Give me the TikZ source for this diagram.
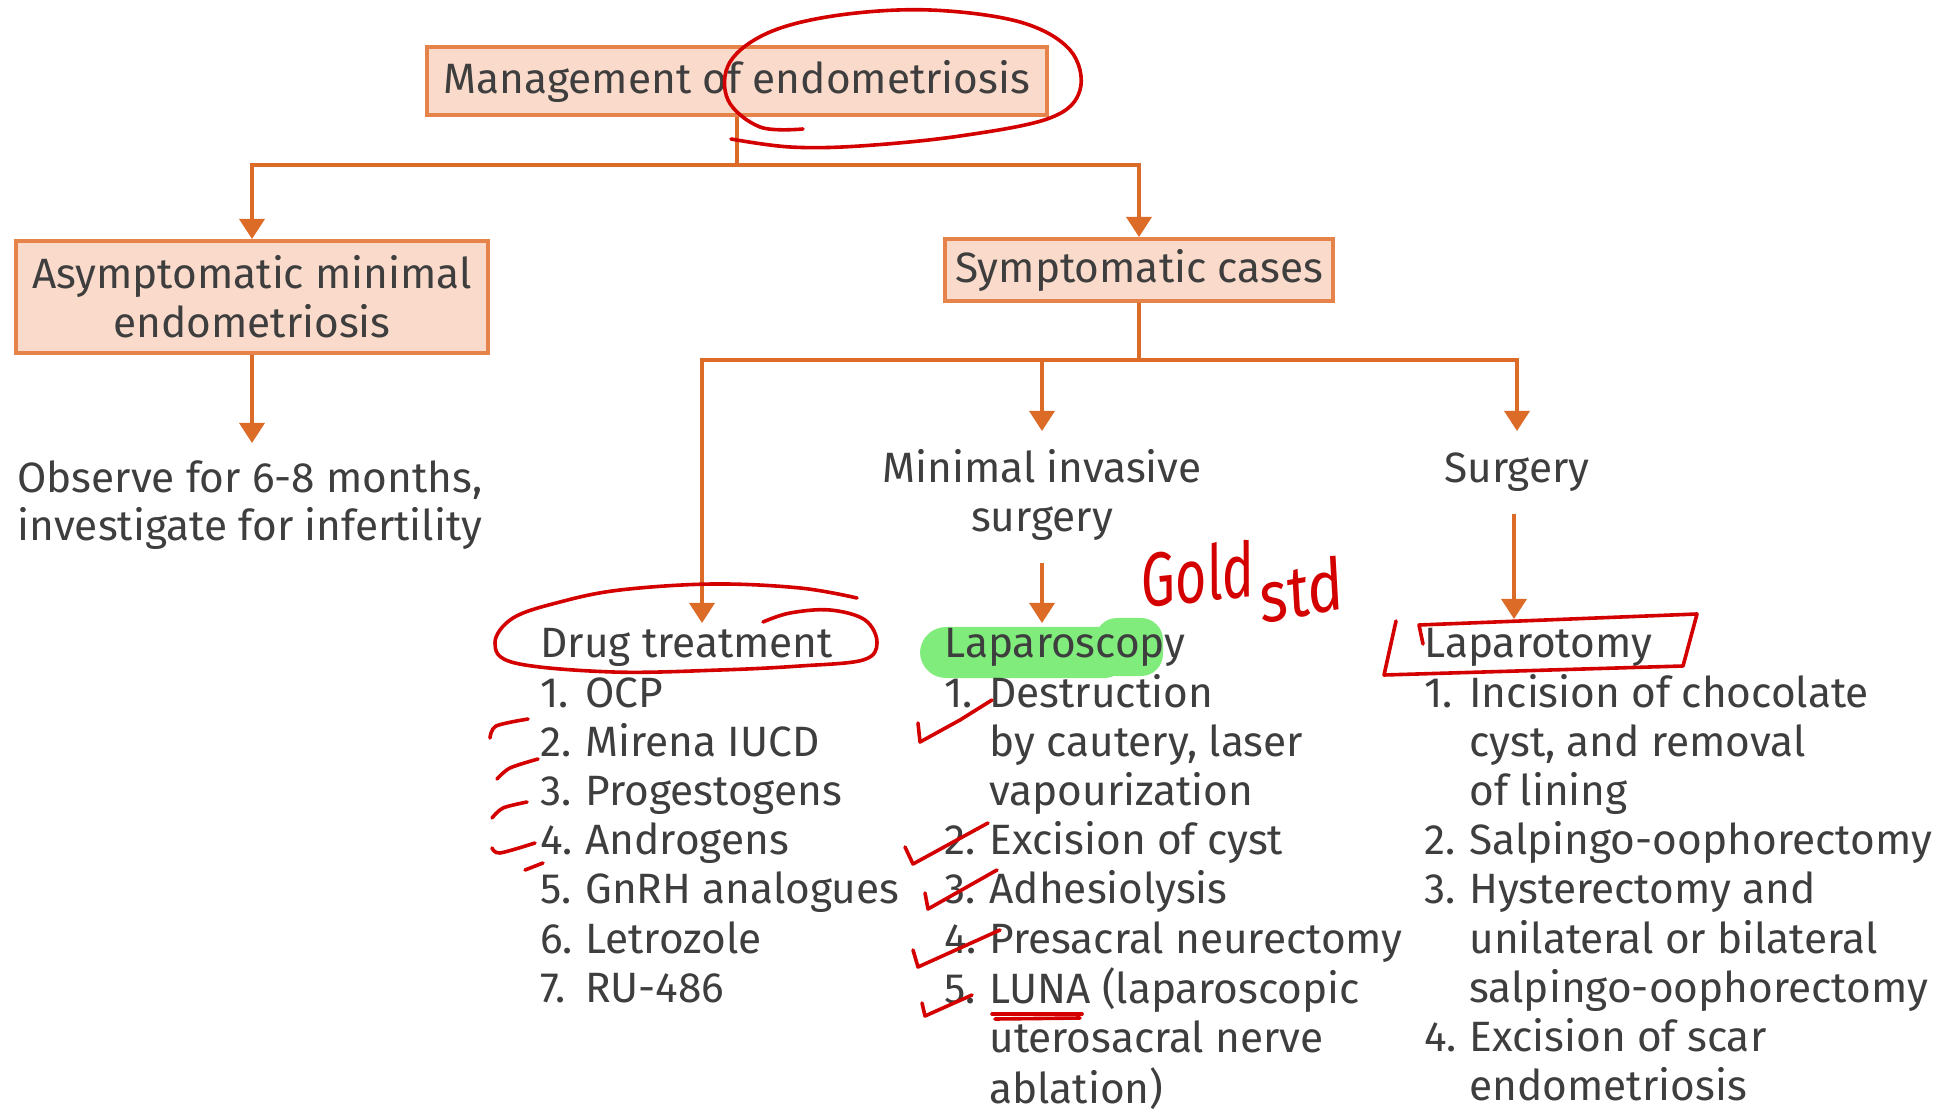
\documentclass[tikz,border=0pt]{standalone}
\usepackage{fontspec}
\setmainfont{Fira Sans}
\usetikzlibrary{arrows.meta}
\definecolor{txtc}{HTML}{3E3E3E}
\definecolor{boxfill}{HTML}{FADACA}
\definecolor{boxline}{HTML}{E5834A}
\definecolor{conn}{HTML}{DB6B26}
\definecolor{pen}{HTML}{D40000}
\definecolor{hl}{HTML}{80EC7C}
\newcommand\nb[1]{\makebox[22.5pt][l]{#1}}
\tikzset{
  txt/.style={text=txtc, font=\fontsize{21.2}{24.6}\selectfont, inner sep=0pt},
  box/.style={txt, draw=boxline, fill=boxfill, line width=2pt, align=center},
  link/.style={draw=conn, line width=1.7pt},
  arr/.style={link, -{Triangle[width=12.5pt,length=10pt]}},
  ink/.style={draw=pen, line width=1.8pt, line cap=round, line join=round},
  hand/.style={text=pen, inner sep=0pt},
}
\begin{document}
\begin{tikzpicture}[x=0.5pt,y=-0.5pt]
\useasboundingbox (0,0) rectangle (1942,1111);
\fill[white] (0,0) rectangle (1942,1111);

% green highlight (behind text)
\fill[hl, rounded corners=13pt] (920,627) rectangle (1130,678);
\fill[hl, rounded corners=11pt] (1095,618) rectangle (1163,676);

% boxes
\node[box, minimum width=310pt, minimum height=34pt] (top) at (737,81) {Management of endometriosis};
\node[box, minimum width=236pt, minimum height=56pt] (asym) at (252,297) {Asymptomatic minimal\\endometriosis};
\node[box, minimum width=194pt, minimum height=31pt] (symp) at (1139,270) {Symptomatic cases};

% plain texts
\node[txt, anchor=base] (obs) at (250,493) {\fontsize{21.2}{24}\selectfont\begin{tabular}[t]{@{}c@{}}Observe for 6-8 months,\\investigate for infertility\end{tabular}};
\node[txt, anchor=base] (mis) at (1042,483) {Minimal invasive};
\node[txt, anchor=base] (mis2l) at (1042,532) {surgery};
\node[txt, anchor=base] (surg) at (1517,483) {Surgery};

% lists
\node[txt, anchor=base west] (drug) at (540,658) {\begin{tabular}[t]{@{}l@{}}
Drug treatment\\
\nb{1.}OCP\\
\nb{2.}Mirena IUCD\\
\nb{3.}Progestogens\\
\nb{4.}Androgens\\
\nb{5.}GnRH analogues\\
\nb{6.}Letrozole\\
\nb{7.}RU-486
\end{tabular}};
\node[txt, anchor=base west] (lscopy) at (944,658) {\begin{tabular}[t]{@{}l@{}}
Laparoscopy\\
\nb{1.}Destruction\\
\nb{}by cautery, laser\\
\nb{}vapourization\\
\nb{2.}Excision of cyst\\
\nb{3.}Adhesiolysis\\
\nb{4.}Presacral neurectomy\\
\nb{5.}LUNA (laparoscopic\\
\nb{}uterosacral nerve\\
\nb{}ablation)
\end{tabular}};
\node[txt, anchor=base west] (ltomy) at (1424,658) {\begin{tabular}[t]{@{}l@{}}
Laparotomy\\
\nb{1.}Incision of chocolate\\
\nb{}cyst, and removal\\
\nb{}of lining\\
\nb{2.}Salpingo-oophorectomy\\
\nb{3.}Hysterectomy and\\
\nb{}unilateral or bilateral\\
\nb{}salpingo-oophorectomy\\
\nb{4.}Excision of scar\\
\nb{}endometriosis
\end{tabular}};

% connectors
\coordinate (j1) at (737,165);
\coordinate (j2) at (1139,360);
\coordinate (drugtip) at (702,623);
\coordinate (mistip) at (1042,431);
\coordinate (surgtip) at (1517,431);
\coordinate (misbot) at (1042,563);
\coordinate (lscopytip) at (1042,623);
\coordinate (surgbot) at (1514,514);
\coordinate (ltomytip) at (1514,619);
\coordinate (obstip) at (252,443);
\draw[link] (top.south) -- (j1);
\draw[arr] (j1) -| (asym.north);
\draw[arr] (j1) -| (symp.north);
\draw[arr] (asym.south) -- (obstip);
\draw[link] (symp.south) -- (j2);
\draw[arr] (j2) -| (drugtip);
\draw[arr] (j2) -| (mistip);
\draw[arr] (j2) -| (surgtip);
\draw[arr] (misbot) -- (lscopytip);
\draw[arr] (surgbot) -- (ltomytip);

% handwritten annotations
\draw[ink] plot[smooth, tension=0.6] coordinates {(803,129) (760,127) (728,100) (730,62) (770,32) (840,15) (930,10) (1020,22) (1070,50) (1080,90) (1050,118) (960,136) (860,146) (790,147) (731,139)};
\draw[ink] plot[smooth, tension=0.6] coordinates {(857,598) (800,588) (713,584) (620,590) (560,602) (513,618) (495,643) (515,663) (613,672) (720,670) (800,666) (863,660) (877,643) (865,620) (830,610) (790,613) (763,622)};
\draw[ink] plot[smooth] coordinates {(490,738) (496,726) (528,719)};
\draw[ink] plot[smooth] coordinates {(497,779) (510,768) (538,759)};
\draw[ink] plot[smooth] coordinates {(492,818) (503,808) (527,802)};
\draw[ink] plot[smooth] coordinates {(492,848) (500,853) (535,843)};
\draw[ink] (525,870) -- (543,863);
% checks
\draw[ink] (918,723) -- (920,742) -- (960,720) -- (992,700);
\draw[ink] (905,847) -- (913,864) -- (988,823);
\draw[ink] (925,893) -- (928,909) -- (997,870);
\draw[ink] (913,950) -- (918,967) -- (1000,930);
\draw[ink] (922,1003) -- (925,1016) -- (972,995);
\draw[ink] (992,1014) -- (1082,1014);
\draw[ink] (995,1019) -- (1080,1018);
% box round Laparotomy
\draw[ink] (1396,621) -- (1384,675) -- (1683,666) -- (1697,614) -- (1419,625) -- (1423,644);
% Gold std
\node[hand, font=\fontsize{38}{38}\selectfont\itshape, rotate=6, xscale=0.72] (gold) at (1197,574) {Gold};
\node[hand, font=\fontsize{36}{36}\selectfont\itshape, rotate=10, xscale=0.85] (std) at (1301,590) {std};
\end{tikzpicture}
\end{document}
